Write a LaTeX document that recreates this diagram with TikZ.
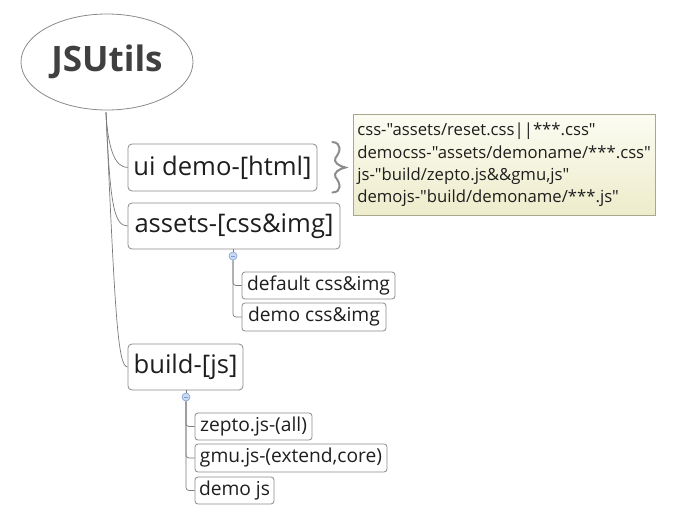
\documentclass[tikz,border=0pt]{standalone}
\usepackage{fontspec}
\setmainfont{Open Sans}[Ligatures=TeXReset]
\usetikzlibrary{calc,shapes.geometric}
\definecolor{boxline}{HTML}{8A8A8A}
\definecolor{conn}{HTML}{7A7A7A}
\definecolor{txt}{HTML}{1E1E1E}
\definecolor{notetop}{HTML}{FCFCF2}
\definecolor{notebot}{HTML}{EDECCB}
\definecolor{noteline}{HTML}{A9A88E}
\definecolor{colfill}{HTML}{C9DAF2}
\definecolor{colline}{HTML}{7E9FD3}
\definecolor{bracecol}{HTML}{8C8C8C}
\tikzset{
  topic/.style={draw=boxline, line width=0.8pt, rounded corners=4pt, text=txt,
    font=\fontsize{25.6}{30}\selectfont, inner xsep=3pt, inner ysep=0pt},
  subtopic/.style={draw=boxline, line width=0.8pt, rounded corners=3pt, text=txt,
    font=\fontsize{19.2}{22}\selectfont, inner xsep=3pt, inner ysep=0pt},
  branch/.style={draw=conn, line width=0.7pt},
  collapse/.style={circle, draw=colline, fill=colfill, line width=0.6pt,
    minimum size=8pt, inner sep=0pt},
}
\begin{document}
\begin{tikzpicture}[x=1pt,y=-1pt]
\useasboundingbox (0,0) rectangle (697,520);
% root
\node[ellipse, draw=boxline, line width=0.8pt, minimum width=172pt, minimum height=96pt,
  text=txt!85!white, font=\bfseries\fontsize{35}{40}\selectfont] (root) at (107,62) {JSUtils};
% main topics
\node[topic, minimum width=189pt, minimum height=47pt] (ui) at (222.5,167.5) {ui demo-[html]};
\node[topic, minimum width=212pt, minimum height=46pt] (assets) at (234,226) {assets-[css\&img]};
\node[topic, minimum width=115pt, minimum height=46pt] (build) at (185.5,367) {build-[js]};
% sub topics
\node[subtopic, minimum width=153pt, minimum height=27pt] (dci) at (318.5,285.5) {default css\&img};
\node[subtopic, minimum width=144pt, minimum height=28pt] (dmci) at (314,317) {demo css\&img};
\node[subtopic, minimum width=117pt, minimum height=27pt] (zepto) at (253.5,426.5) {zepto.js-(all)};
\node[subtopic, minimum width=192pt, minimum height=28pt] (gmu) at (291,458) {gmu.js-(extend,core)};
\node[subtopic, minimum width=79pt, minimum height=27pt] (demojs) at (234.5,490.5) {demo js};
% note
\node[draw=noteline, line width=0.7pt, top color=notetop, bottom color=notebot,
  minimum width=302pt, minimum height=101pt, anchor=north west, inner xsep=4pt, inner ysep=3pt,
  align=left, text=txt, font=\fontsize{16.7}{22.2}\selectfont, text width=294pt] (note) at (353,114)
  {css-"assets/reset.css||***.css"\\democss-"assets/demoname/***.css"\\js-"build/zepto.js\&\&gmu,js"\\demojs-"build/demoname/***.js"};
% brace
\draw[bracecol, line width=2pt, line cap=round, shift={(ui.east)}]
  (15,-25.5) .. controls (25,-24.5) and (23,-15.5) .. (18,-9.5)
  .. controls (16,-5.5) and (21,-1.5) .. (28,0)
  .. controls (21,1.5) and (16,5.5) .. (18,9.5)
  .. controls (23,15.5) and (25,24.5) .. (15,25);
% trunk branches
\coordinate (rs) at ($(root.south)+(-1,2)$);
\draw[branch] (rs) .. controls ($(rs)+(2,38)$) and ($(ui.west)+(-12,0)$) .. (ui.west);
\draw[branch] (rs) .. controls ($(rs)+(4,90)$) and ($(assets.west)+(-14,0)$) .. (assets.west);
\draw[branch] (rs) .. controls ($(rs)+(9,200)$) and ($(build.west)+(-10,0)$) .. (build.west);
% collapse markers
\node[collapse] (c1) at (233,256) {};
\node[collapse] (c2) at (186,397) {};
\draw[colline, line width=0.6pt] ($(c1)+(-2,0)$) -- ($(c1)+(2,0)$);
\draw[colline, line width=0.6pt] ($(c2)+(-2,0)$) -- ($(c2)+(2,0)$);
\draw[branch] (assets.south -| c1) -- (c1);
\draw[branch] (build.south -| c2) -- (c2);
% sub branches
\draw[branch, rounded corners=3pt] (c1.south) |- (dci.west);
\draw[branch, rounded corners=3pt] (c1.south) |- (dmci.west);
\draw[branch, rounded corners=3pt] (c2.south) |- (zepto.west);
\draw[branch, rounded corners=3pt] (c2.south) |- (gmu.west);
\draw[branch, rounded corners=3pt] (c2.south) |- (demojs.west);
\end{tikzpicture}
\end{document}
